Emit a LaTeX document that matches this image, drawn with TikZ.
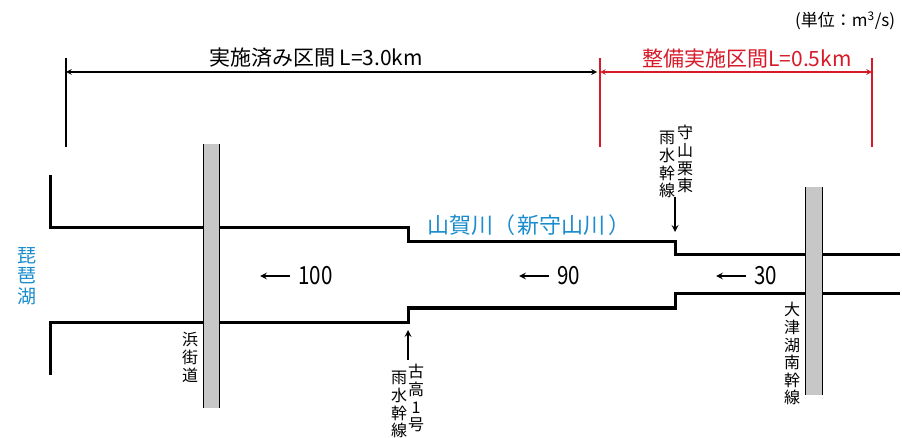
\documentclass[tikz,border=0pt]{standalone}
\usepackage{fontspec}
\newfontfamily\jp{Noto Sans CJK JP}
\newfontfamily\jpnarrow{Noto Sans CJK JP}[FakeStretch=0.82]
\usetikzlibrary{arrows}
\definecolor{lakeblue}{RGB}{25,140,205}
\definecolor{workred}{RGB}{215,25,40}

\begin{document}
\begin{tikzpicture}[x=1pt,y=-1pt,line width=3pt,>=stealth,
  font=\jp,
  vlabel/.style={font=\jp\fontsize{16}{17.6}\selectfont,align=center,inner sep=0pt,anchor=north},
  flow/.style={font=\jpnarrow\fontsize{25}{25}\selectfont,anchor=west,inner sep=0pt},
  dim/.style={line width=1.5pt,<->},
  tick/.style={line width=2.5pt}]
\useasboundingbox (0,0) rectangle (902,438);

% river banks
\draw (50,175) -- (50,228) -- (408,228) -- (408,242) -- (675,242) -- (675,255) -- (900,255);
\draw (50,375) -- (50,322) -- (408,322) -- (408,308) -- (675,308) -- (675,294) -- (900,294);

% bridges
\foreach \xa/\xb/\ya/\yb in {203/219/144/408, 805/822/187/395}{
  \fill[black!22] (\xa,\ya) rectangle (\xb,\yb);
  \draw[line width=1pt] (\xa,\ya) -- (\xa,\yb) (\xb,\ya) -- (\xb,\yb);
}
\node[vlabel] (hama) at (190,331) {浜\\街\\道};
\node[vlabel] (otsu) at (792,301) {大\\津\\湖\\南\\幹\\線};

% lake and river names
\node[vlabel,lakeblue,font=\jp\fontsize{19}{20.5}\selectfont] (biwa) at (27,246) {琵\\琶\\湖};
\node[lakeblue,font=\jp\fontsize{22}{22}\selectfont] (yoga) at (529,225) {山賀川（\hspace{3pt}新守山川\hspace{3pt}）};

% discharges
\foreach \q/\x in {100/297, 90/556, 30/753}{
  \node[flow] (q\q) at (\x,276) {\q};
  \coordinate (t\q) at (\x-37,276);
  \draw[->,line width=2pt] ([xshift=-7pt]q\q.west) -- (t\q);
}

% inflowing drains
\node[vlabel] (moriyama) at (685,124) {守\\山\\栗\\東};
\node[vlabel] (moriyama2) at (667,130) {雨\\水\\幹\\線};
\coordinate (mtop) at (675,197);
\coordinate (mjoin) at (675,232);
\draw[->,line width=2pt] (mtop) -- (mjoin);

\node[vlabel] (furutaka) at (416,363) {古\\高\\1\\号};
\node[vlabel] (furutaka2) at (399,370) {雨\\水\\幹\\線};
\coordinate (fbot) at (408,360);
\coordinate (fjoin) at (408,330);
\draw[->,line width=2pt] (fbot) -- (fjoin);

% sections
\coordinate (d0) at (66,72);
\coordinate (d1) at (600,72);
\coordinate (d2) at (872,72);
\draw[tick] (d0) ++(0,-14) -- ++(0,89);
\draw[tick,workred] (d1) ++(0,-14) -- ++(0,89);
\draw[tick,workred] (d2) ++(0,-14) -- ++(0,89);
\draw[dim] (d0) -- ([xshift=-3pt]d1);
\draw[dim,workred] (d1) -- (d2);
\node[font=\jp\fontsize{21}{21}\selectfont] (done) at (316,58) {実施済み区間 L=3.0km};
\node[workred,font=\jp\fontsize{21}{21}\selectfont] (plan) at (747,59) {整備実施区間L=0.5km};
\node[anchor=east,font=\jp\fontsize{17}{17}\selectfont] (unit) at (900,21) {(単位：m\textsuperscript{3}/s)};

\end{tikzpicture}
\end{document}
